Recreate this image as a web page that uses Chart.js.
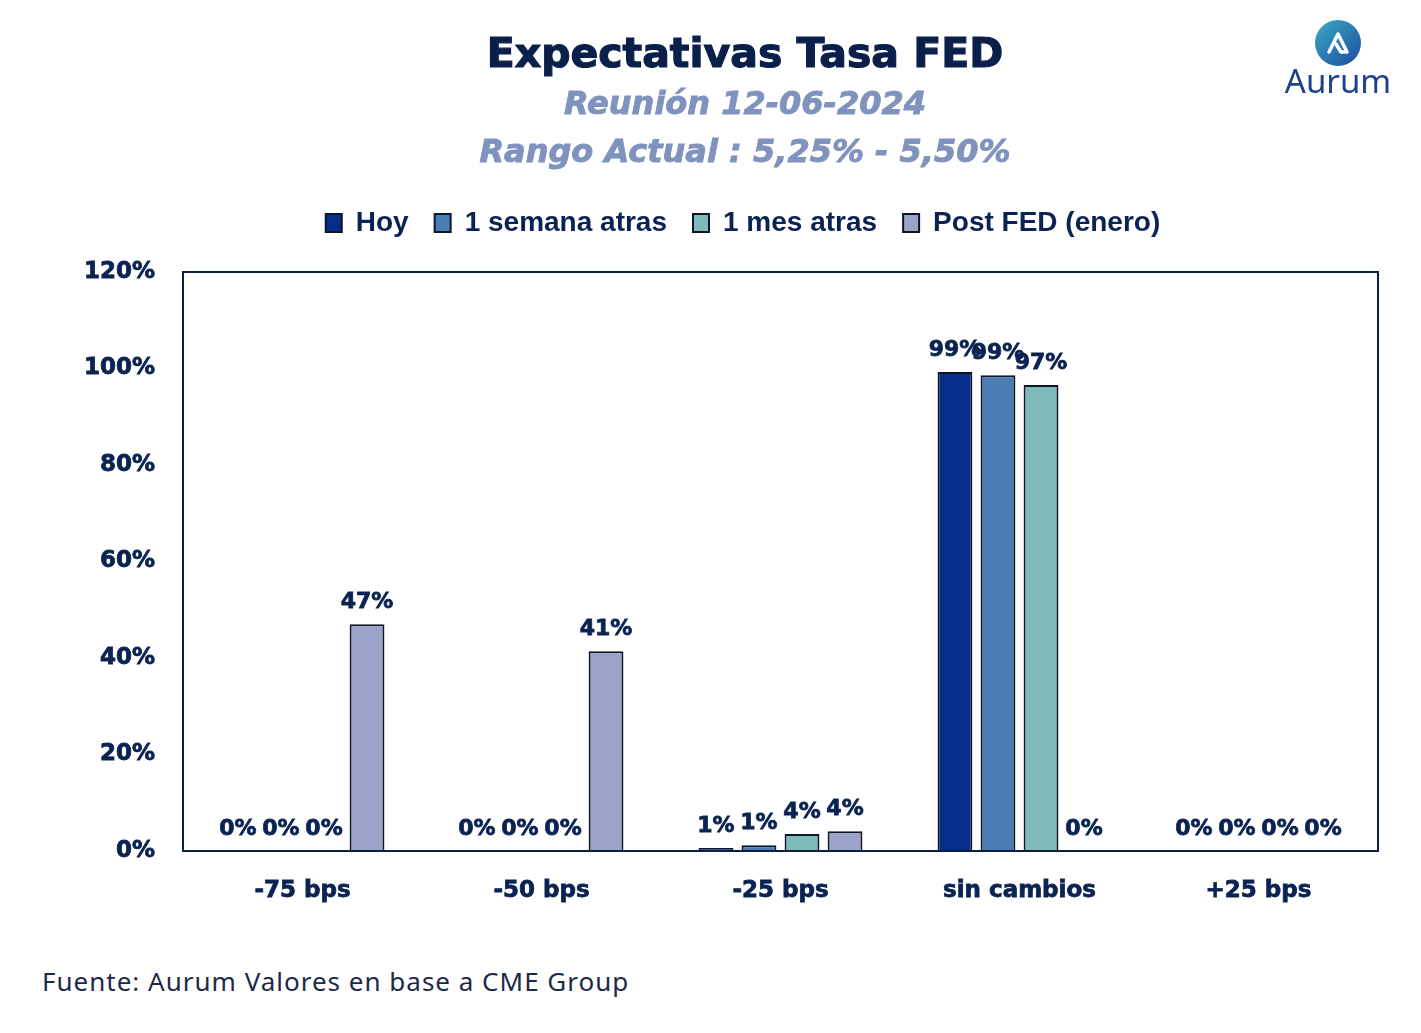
<!DOCTYPE html>
<html>
<head>
<meta charset="utf-8">
<script src="https://cdn.jsdelivr.net/npm/chart.js@4.4.1/dist/chart.umd.min.js"></script>
<style>
html, body { margin: 0; padding: 0; background: #fff; }
#wrap { position: relative; width: 1421px; height: 1033px; overflow: hidden; }
#chart { position: absolute; left: 0; top: 0; }
.head { position: absolute; left: 0; width: 1490px; text-align: center; font-family: "DejaVu Sans"; font-weight: bold; white-space: nowrap; }
#title { top: 29px; font-size: 41px; line-height: 48px; color: #0b1f4b; -webkit-text-stroke: 1.2px #0b1f4b; }
.sub { font-size: 32px; line-height: 40px; font-style: italic; color: #7f93be; -webkit-text-stroke: 0.9px #7f93be; }
#sub1 { top: 83px; }
#sub2 { top: 131px; }
#source { position: absolute; left: 42px; top: 966px; font-family: "Noto Sans"; font-size: 26px; line-height: 30px; letter-spacing: 1px; color: #1b2a49; }
#logo { position: absolute; left: 1280px; top: 18px; }
</style>
</head>
<body>
<div id="wrap">
  <canvas id="chart" width="1421" height="935"></canvas>
  <div class="head" id="title">Expectativas Tasa FED</div>
  <div class="head sub" id="sub1">Reunión 12-06-2024</div>
  <div class="head sub" id="sub2">Rango Actual : 5,25% - 5,50%</div>
  <svg id="logo" width="120" height="80" viewBox="0 0 120 80">
    <defs>
      <linearGradient id="lg" x1="0" y1="0" x2="1" y2="1">
        <stop offset="0" stop-color="#38aac6"/>
        <stop offset="1" stop-color="#1f4c9f"/>
      </linearGradient>
    </defs>
    <circle cx="58" cy="25" r="23" fill="url(#lg)"/>
    <path d="M49 34 L58 16 L67 34 L61 34 L56 26" fill="none" stroke="#fff" stroke-width="3.5" stroke-linejoin="round" stroke-linecap="round"/>
    <text x="58" y="75" text-anchor="middle" font-family="Noto Sans" font-size="33" fill="#1f3f8f">Aurum</text>
  </svg>
  <div id="source">Fuente: Aurum Valores en base a CME Group</div>
</div>
<script>
// Categories and series (probabilities in %)
var categories = ["-75 bps", "-50 bps", "-25 bps", "sin cambios", "+25 bps"];
var hoy = [0, 0, 0.6, 99.3, 0];
var unaSemana = [0, 0, 1.2, 98.6, 0];
var unMes = [0, 0, 3.5, 96.6, 0];
var postFed = [47.0, 41.4, 4.1, 0, 0];
var yTicks = [0, 20, 40, 60, 80, 100, 120];

var navy = "#0b2352";

// Frame around the plot area, plus legend spacing tweaks
var plotFrame = {
    id: "plotFrame",
    beforeLayout: function (chart) {
        var lg = chart.legend;
        if (lg && !lg._patched) {
            var fit = lg.fit;
            lg.fit = function () {
                fit.call(this);
                this.height += 25; // gap between legend and plot
            };
            lg._patched = true;
        }
    },
    afterLayout: function (chart) {
        // nudge legend to be centred like the original
        if (chart.legend) {
            chart.legend.left += 19;
            chart.legend.right += 19;
        }
    },
    afterDatasetsDraw: function (chart) {
        var a = chart.chartArea;
        var ctx = chart.ctx;
        ctx.save();
        ctx.strokeStyle = "#0b1f45";
        ctx.lineWidth = 2;
        ctx.strokeRect(a.left, a.top, a.right - a.left, a.bottom - a.top);
        ctx.restore();
    }
};

// Value labels above the bars
var barLabels = {
    id: "barLabels",
    afterDraw: function (chart) {
        var ctx = chart.ctx;
        ctx.save();
        ctx.font = 'bold 22px "DejaVu Sans"';
        ctx.fillStyle = navy;
        ctx.strokeStyle = navy;
        ctx.lineWidth = 0.8;
        ctx.textAlign = "center";
        ctx.textBaseline = "middle";
        chart.data.datasets.forEach(function (ds, i) {
            chart.getDatasetMeta(i).data.forEach(function (bar, j) {
                var txt = Math.round(ds.data[j]) + "%";
                ctx.fillText(txt, bar.x, bar.y - 22);
                ctx.strokeText(txt, bar.x, bar.y - 22);
            });
        });
        ctx.restore();
    }
};

var ctx = document.getElementById("chart").getContext("2d");

var myChart = new Chart(ctx, {
    type: "bar",
    data: {
        labels: categories,
        datasets: [
            { label: "Hoy", data: hoy, backgroundColor: "#062d89" },
            { label: "1 semana atras", data: unaSemana, backgroundColor: "#4a7db4" },
            { label: "1 mes atras", data: unMes, backgroundColor: "#7dbbba" },
            { label: "Post FED (enero)", data: postFed, backgroundColor: "#9ba3ca" }
        ]
    },
    options: {
        responsive: false,
        animation: false,
        datasets: {
            bar: {
                categoryPercentage: 0.72,
                barPercentage: 0.81,
                borderColor: "#0d1526",
                borderWidth: 2
            }
        },
        layout: { padding: { top: 183, left: 70, right: 43, bottom: 0 } },
        plugins: {
            tooltip: { enabled: false },
            legend: {
                position: "top",
                labels: {
                    color: navy,
                    font: { family: "Liberation Sans", weight: "bold", size: 28 },
                    boxWidth: 16,
                    boxHeight: 18,
                    padding: 26
                }
            }
        },
        scales: {
            x: {
                grid: { display: false },
                border: { display: false },
                ticks: {
                    color: navy,
                    font: { family: "DejaVu Sans", weight: "bold", size: 23 },
                    textStrokeColor: navy,
                    textStrokeWidth: 0.8,
                    padding: 18,
                    maxRotation: 0
                },
                afterFit: function (s) { s.height = 84; }
            },
            y: {
                min: 0,
                max: 120,
                grid: { display: false, drawTicks: false },
                border: { display: false },
                afterBuildTicks: function (s) {
                    s.ticks = yTicks.map(function (v) { return { value: v }; });
                },
                ticks: {
                    color: navy,
                    font: { family: "DejaVu Sans", weight: "bold", size: 23 },
                    textStrokeColor: navy,
                    textStrokeWidth: 0.8,
                    padding: 28,
                    callback: function (v) { return v + "%"; }
                },
                afterFit: function (s) { s.width = 113; }
            }
        }
    },
    plugins: [plotFrame, barLabels]
});
</script>
</body>
</html>
